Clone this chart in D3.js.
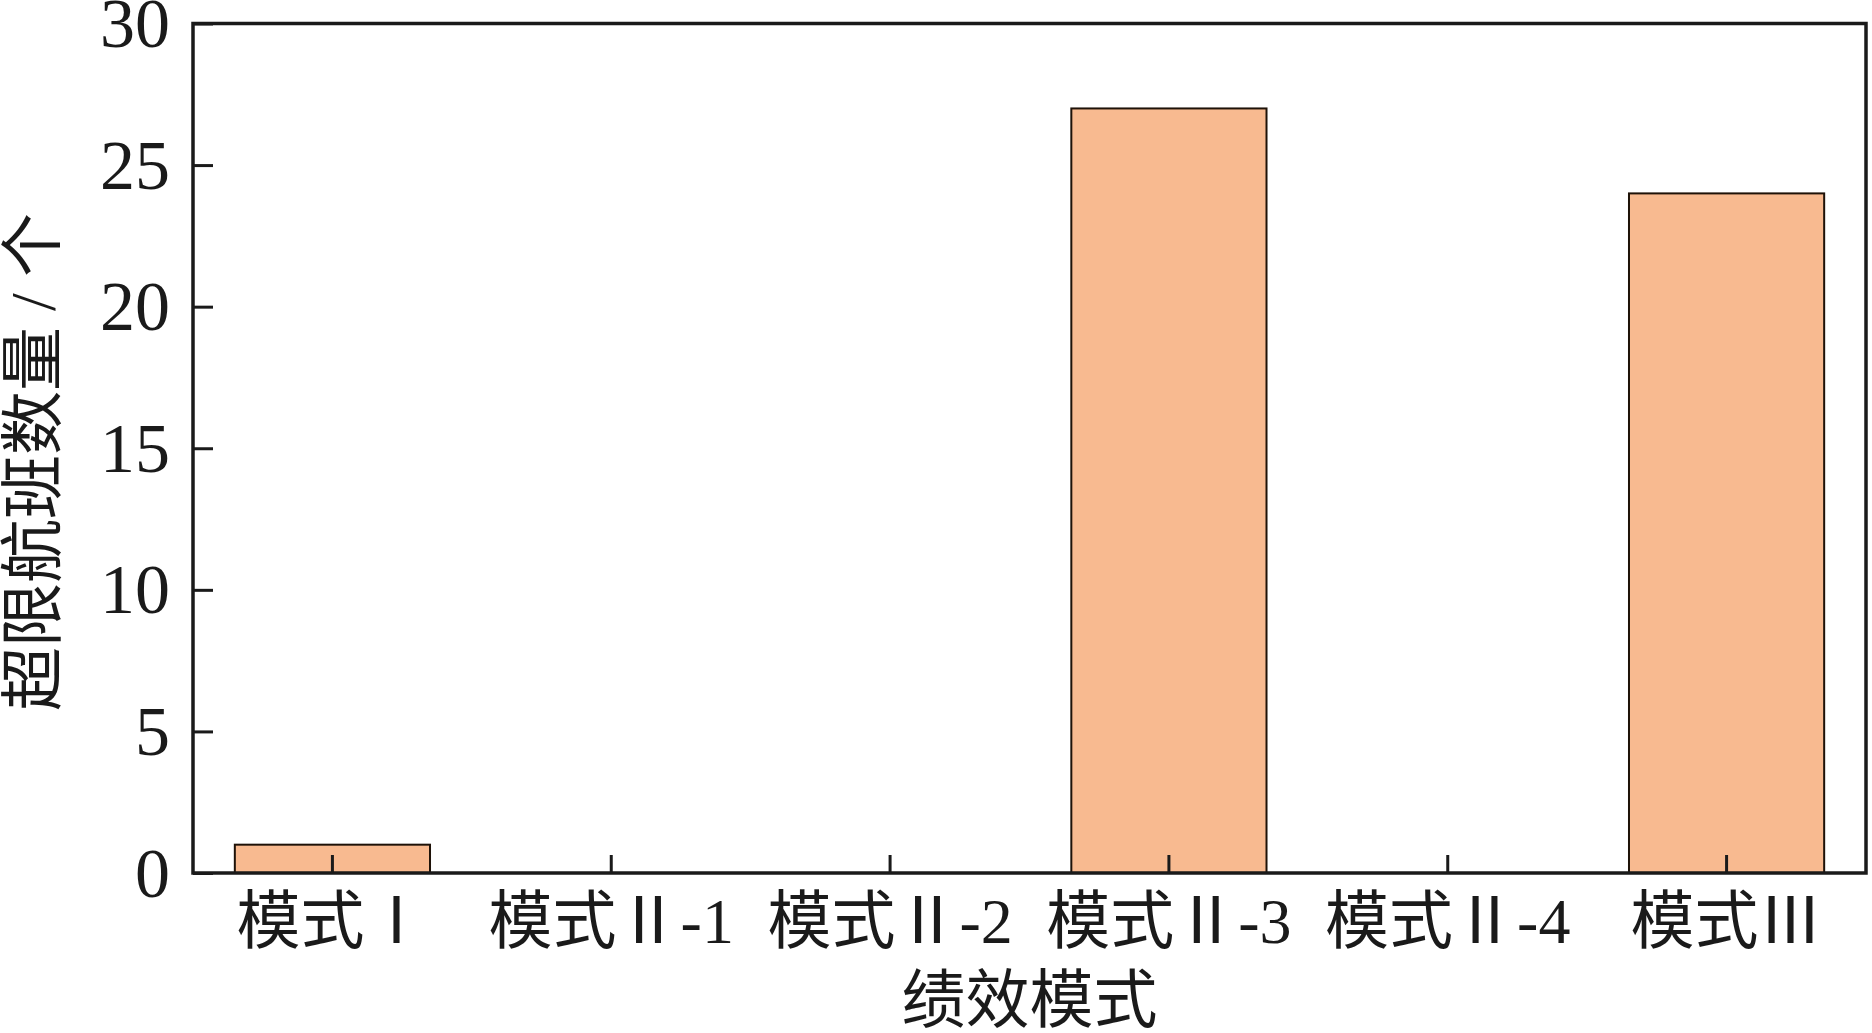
<!DOCTYPE html>
<html>
<head>
<meta charset="utf-8">
<script src="https://cdn.jsdelivr.net/npm/d3@7"></script>
<style>
  body { margin: 0; background: #fff; }
  svg { display: block; }
</style>
</head>
<body>
<script>
// data
var categories = ['模式Ⅰ', '模式Ⅱ-1', '模式Ⅱ-2', '模式Ⅱ-3', '模式Ⅱ-4', '模式Ⅲ'];
var counts = [1, 0, 0, 27, 0, 24];
var yTicks = [0, 5, 10, 15, 20, 25, 30];

var width = 1872, height = 1033;
var plotLeft = 193, plotRight = 1866, plotTop = 23.5, plotBottom = 873;

var svg = d3.select('body').append('svg')
    .attr('width', width)
    .attr('height', height);

var x = d3.scaleBand()
    .domain(categories)
    .range([plotLeft, plotRight])
    .paddingInner(0.3)
    .paddingOuter(0.15);

var y = d3.scaleLinear()
    .domain([0, 30])
    .range([plotBottom, plotTop]);

// bars
svg.selectAll('rect.bar')
    .data(counts)
    .enter().append('rect')
    .attr('class', 'bar')
    .attr('x', (d, i) => x(categories[i]))
    .attr('y', (d) => y(d))
    .attr('width', x.bandwidth())
    .attr('height', (d) => y(0) - y(d))
    .style('fill', '#f8ba90')
    .style('stroke', d => d > 0 ? '#1e1208' : 'none')
    .style('stroke-width', 2);

// frame
svg.append('rect')
    .attr('x', plotLeft)
    .attr('y', plotTop)
    .attr('width', plotRight - plotLeft)
    .attr('height', plotBottom - plotTop)
    .style('fill', 'none')
    .style('stroke', '#1a1a1a')
    .style('stroke-width', 3.5);

var numFont = '"Liberation Serif", "Times New Roman", serif';
var cjkFont = '"Liberation Serif", "Noto Sans CJK SC", serif';

// y axis
var yAxis = svg.append('g')
    .attr('transform', `translate(${plotLeft},0)`)
    .call(d3.axisLeft(y).tickValues(yTicks).tickSize(-20).tickPadding(23));
yAxis.select('.domain').remove();
yAxis.selectAll('line').style('stroke', '#1a1a1a').style('stroke-width', 3);
yAxis.selectAll('text')
    .style('font-family', numFont)
    .style('font-size', '70px')
    .style('fill', '#1a1a1a')
    .attr('dy', '0.33em');

// x axis
var xAxis = svg.append('g')
    .attr('transform', `translate(0,${plotBottom})`)
    .call(d3.axisBottom(x).tickSize(-18).tickPadding(22));
xAxis.select('.domain').remove();
xAxis.selectAll('line').style('stroke', '#1a1a1a').style('stroke-width', 3);
xAxis.selectAll('text')
    .style('font-family', cjkFont)
    .style('font-size', '64px')
    .style('fill', '#1a1a1a')
    .attr('dy', '0.75em');

// axis titles
svg.append('text')
    .attr('x', (plotLeft + plotRight) / 2)
    .attr('y', 1022)
    .attr('text-anchor', 'middle')
    .style('font-family', cjkFont)
    .style('font-size', '64px')
    .style('fill', '#1a1a1a')
    .text('绩效模式');

svg.append('text')
    .attr('transform', 'translate(55,462) rotate(-90)')
    .attr('text-anchor', 'middle')
    .style('font-family', cjkFont)
    .style('font-size', '64px')
    .style('fill', '#1a1a1a')
    .text('超限航班数量 / 个');
</script>
</body>
</html>
